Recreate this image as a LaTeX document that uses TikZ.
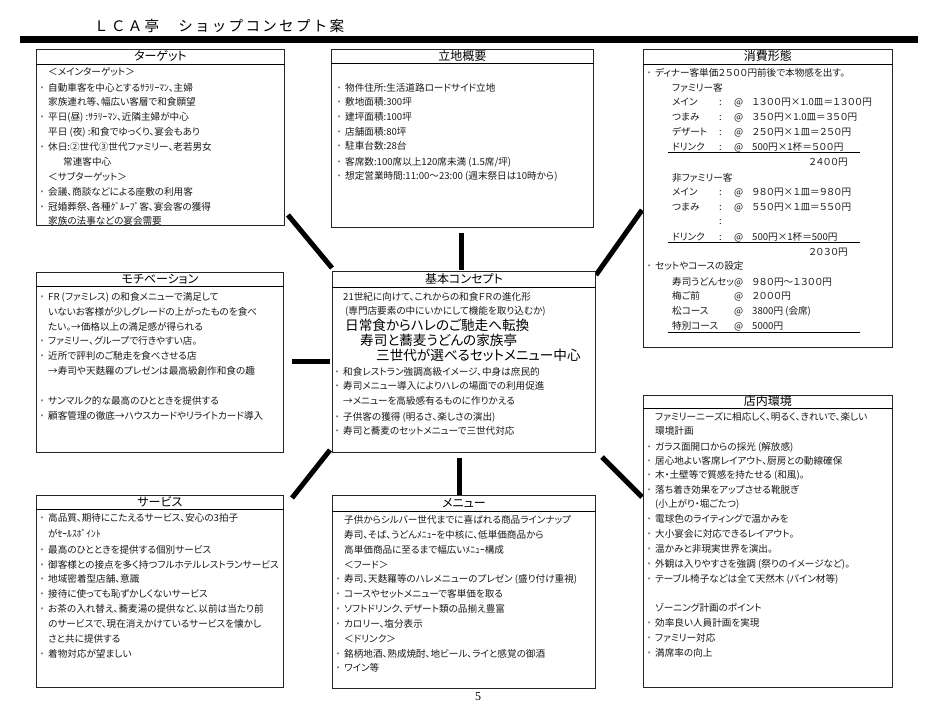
\documentclass[tikz,border=0pt]{standalone}
\usepackage{fontspec}
\newfontfamily\jp{Noto Sans CJK JP}[RawFeature={+palt}]
\newfontfamily\jpt{Noto Sans CJK JP}[LetterSpace=16]
\newfontfamily\pgserif{Liberation Serif}
\newcommand\bu{\llap{\makebox[12pt]{\color{black!55}・}}}
\newcommand\mklines[3]{\foreach \yy/\ltx [count=\ci] in {#3} {\node[ln] (#1-\ci) at (#2,\yy) {\ltx};}}
\newcommand\mkpanel[7]{%
  \node[panel, minimum width=#4pt, minimum height=#5pt] (#1) at (#2,#3) {};
  \draw[divider] ([yshift=-#6pt]#1.north west) -- ([yshift=-#6pt]#1.north east);
  \node[ttl] (#1-t) at ([yshift=-#6pt/2]#1.north) {#7};}
\tikzset{
  panel/.style={draw=black!85, line width=0.9pt, anchor=north west, inner sep=0pt, fill=white},
  divider/.style={draw=black, line width=0.9pt},
  ttl/.style={font=\jp\fontsize{12}{14}\selectfont, inner sep=0pt, text=black, text height=10.5pt, text depth=1.5pt},
  ln/.style={font=\jp\fontsize{9.6}{11}\selectfont, inner sep=0pt, anchor=west, text=black!90, text height=8.4pt, text depth=1.2pt},
  big/.style={ln, font=\jp\fontsize{13.6}{16}\selectfont, text height=12pt, text depth=1.7pt, text=black},
  conn/.style={line width=5pt, draw=black},
  rule/.style={line width=1pt, draw=black},
}
\begin{document}
\begin{tikzpicture}[x=1pt,y=-1pt]
\useasboundingbox[fill=white] (0,0) rectangle (937,708);

% header
\node[anchor=west, inner sep=0pt, font=\jpt\fontsize{14.5}{16}\selectfont] (title) at (94,26) {ＬＣＡ亭　ショップコンセプト案};
\node[fill=black, minimum width=898pt, minimum height=7pt, inner sep=0pt, anchor=north west] (bar) at (20,36) {};

% connectors
\coordinate (tlA) at (288,215); \coordinate (tlB) at (332,268);
\coordinate (tA) at (461,233);  \coordinate (tB) at (461,270);
\coordinate (trA) at (642,210); \coordinate (trB) at (596,275);
\coordinate (lA) at (292,362);  \coordinate (lB) at (330,362);
\coordinate (blA) at (330,450); \coordinate (blB) at (292,498);
\coordinate (bA) at (459,458);  \coordinate (bB) at (459,495);
\coordinate (brA) at (602,457); \coordinate (brB) at (642,497);
\draw[conn] (tlA) -- (tlB);
\draw[conn] (tA) -- (tB);
\draw[conn] (trA) -- (trB);
\draw[conn] (lA) -- (lB);
\draw[conn] (blA) -- (blB);
\draw[conn] (bA) -- (bB);
\draw[conn] (brA) -- (brB);

% panels
\mkpanel{tg}{36}{49}{248}{176}{15}{ターゲット}
\mkpanel{rc}{331}{49}{262}{178}{14}{立地概要}
\mkpanel{sh}{643}{49}{249}{298}{15}{消費形態}
\mkpanel{mo}{36}{272}{247}{180}{14}{モチベーション}
\mkpanel{co}{332}{271}{263}{181}{16}{基本コンセプト}
\mkpanel{te}{643}{395}{249}{292}{13}{店内環境}
\mkpanel{sv}{36}{495}{247}{192}{14}{サービス}
\mkpanel{me}{332}{495}{263}{193}{16}{メニュー}

% ターゲット
\mklines{tgl}{48}{72/{＜メインターゲット＞},
 88/{\bu 自動車客を中心とするｻﾗﾘｰﾏﾝ、主婦},
 102/{家族連れ等、幅広い客層で和食願望},
 117/{\bu 平日(昼) :ｻﾗﾘｰﾏﾝ、近隣主婦が中心},
 132/{平日 (夜) :和食でゆっくり、宴会もあり},
 147/{\bu 休日:②世代③世代ファミリー、老若男女},
 162/{\hspace*{15pt}常連客中心},
 177/{＜サブターゲット＞},
 192/{\bu 会議、商談などによる座敷の利用客},
 207/{\bu 冠婚葬祭、各種ｸﾞﾙｰﾌﾟ客、宴会客の獲得},
 221/{家族の法事などの宴会需要}}

% 立地概要
\mklines{rcl}{345}{88/{\bu 物件住所:生活道路ロードサイド立地},
 102/{\bu 敷地面積:300坪},
 117/{\bu 建坪面積:100坪},
 132/{\bu 店舗面積:80坪},
 146/{\bu 駐車台数:28台},
 162/{\bu 客席数:100席以上120席未満 (1.5席/坪)},
 176/{\bu 想定営業時間:11:00～23:00 (週末祭日は10時から)}}

% 消費形態
\node[ln] (sh-a) at (655,73) {\bu ディナー客単価２５００円前後で本物感を出す。};
\node[ln] (sh-b) at (672,88) {ファミリー客};
\foreach \yy/\la/\pr [count=\ci] in {102/メイン/{１３００円×1.0皿＝１３００円},
  117/つまみ/{３５０円×1.0皿＝３５０円},
  132/デザート/{２５０円×１皿＝２５０円},
  147/ドリンク/{500円×1杯＝５００円},
  192/メイン/{９８０円×１皿＝９８０円},
  207/つまみ/{５５０円×１皿＝５５０円},
  237/ドリンク/{500円×1杯＝500円}} {
  \node[ln] (sh-l\ci) at (672,\yy) {\la};
  \node[ln] (sh-c\ci) at (719,\yy) {:};
  \node[ln] (sh-at\ci) at (734,\yy) {@};
  \node[ln] (sh-p\ci) at (752,\yy) {\pr};
}
\node[ln] (sh-c) at (719,221) {:};
\draw[rule] (668,153) -- (860,153);
\node[ln, anchor=east] (sh-s1) at (848,162) {２４００円};
\node[ln] (sh-n) at (672,178) {非ファミリー客};
\draw[rule] (668,243) -- (860,243);
\node[ln, anchor=east] (sh-s2) at (848,252) {２０３０円};
\node[ln] (sh-set) at (655,266) {\bu セットやコースの設定};
\foreach \yy/\la/\pr [count=\ci] in {282/寿司うどんセッ/{９８０円～１３００円},
  296/梅ご前/{２０００円},
  311/松コース/{3800円 (会席)},
  326/特別コース/{5000円}} {
  \node[ln] (sh-sl\ci) at (672,\yy) {\la};
  \node[ln] (sh-sa\ci) at (734,\yy) {@};
  \node[ln] (sh-sp\ci) at (752,\yy) {\pr};
}
\draw[rule] (668,333) -- (860,333);

% モチベーション
\mklines{mol}{48}{297/{\bu FR (ファミレス) の和食メニューで満足して},
 312/{いないお客様が少しグレードの上がったものを食べ},
 327/{たい。→価格以上の満足感が得られる},
 341/{\bu ファミリー、グループで行きやすい店。},
 356/{\bu 近所で評判のご馳走を食べさせる店},
 371/{→寿司や天麩羅のプレゼンは最高級創作和食の趣},
 401/{\bu サンマルク的な最高のひとときを提供する},
 416/{\bu 顧客管理の徹底→ハウスカードやリライトカード導入}}

% 基本コンセプト
\node[ln] (co-1) at (343,297) {21世紀に向けて、これからの和食ＦＲの進化形};
\node[ln] (co-2) at (345,311) {(専門店要素の中にいかにして機能を取り込むか)};
\node[big] (co-3) at (345,325) {日常食からハレのご馳走へ転換};
\node[big] (co-4) at (360,340) {寿司と蕎麦うどんの家族亭};
\node[big] (co-5) at (376,355) {三世代が選べるセットメニュー中心};
\mklines{col}{343}{372/{\bu 和食レストラン強調高級イメージ、中身は庶民的},
 386/{\bu 寿司メニュー導入によりハレの場面での利用促進},
 401/{→メニューを高級感有るものに作りかえる},
 417/{\bu 子供客の獲得 (明るさ、楽しさの演出)},
 431/{\bu 寿司と蕎麦のセットメニューで三世代対応}}

% 店内環境
\mklines{tel}{655}{417/{ファミリーニーズに相応しく、明るく、きれいで、楽しい},
 431/{環境計画},
 447/{\bu ガラス面開口からの採光 (解放感)},
 461/{\bu 居心地よい客席レイアウト、厨房との動線確保},
 475/{\bu 木・土壁等で質感を持たせる (和風)。},
 490/{\bu 落ち着き効果をアップさせる靴脱ぎ},
 504/{(小上がり・堀ごたつ)},
 519/{\bu 電球色のライティングで温かみを},
 534/{\bu 大小宴会に対応できるレイアウト。},
 549/{\bu 温かみと非現実世界を演出。},
 564/{\bu 外観は入りやすさを強調 (祭りのイメージなど)。},
 579/{\bu テーブル椅子などは全て天然木 (パイン材等)},
 608/{ゾーニング計画のポイント},
 623/{\bu 効率良い人員計画を実現},
 638/{\bu ファミリー対応},
 653/{\bu 満席率の向上}}

% サービス
\mklines{svl}{48}{518/{\bu 高品質、期待にこたえるサービス、安心の3拍子},
 534/{がｾｰﾙｽﾎﾟｲﾝﾄ},
 550/{\bu 最高のひとときを提供する個別サービス},
 565/{\bu 御客様との接点を多く持つフルホテルレストランサービス},
 579/{\bu 地域密着型店舗、意識},
 594/{\bu 接待に使っても恥ずかしくないサービス},
 609/{\bu お茶の入れ替え、蕎麦湯の提供など、以前は当たり前},
 624/{のサービスで、現在消えかけているサービスを懐かし},
 639/{さと共に提供する},
 654/{\bu 着物対応が望ましい}}

% メニュー
\mklines{mel}{344}{520/{子供からシルバー世代までに喜ばれる商品ラインナップ},
 535/{寿司、そば、うどんﾒﾆｭｰを中核に、低単価商品から},
 550/{高単価商品に至るまで幅広いﾒﾆｭｰ構成},
 565/{＜フード＞},
 579/{\bu 寿司、天麩羅等のハレメニューのプレゼン (盛り付け重視)},
 594/{\bu コースやセットメニューで客単価を取る},
 609/{\bu ソフトドリンク、デザート類の品揃え豊富},
 624/{\bu カロリー、塩分表示},
 639/{＜ドリンク＞},
 654/{\bu 銘柄地酒、熟成焼酎、地ビール、ライと感覚の御酒},
 668/{\bu ワイン等}}

% page number
\node[inner sep=0pt, font=\pgserif\fontsize{12}{13}\selectfont] (pg) at (478,697) {5};
\end{tikzpicture}
\end{document}
